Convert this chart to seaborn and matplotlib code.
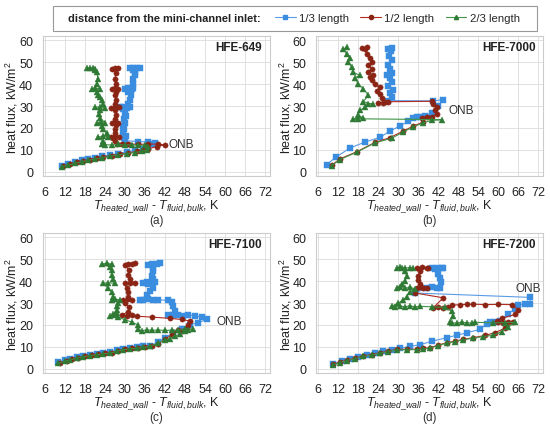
import matplotlib
matplotlib.use("Agg")
import matplotlib.pyplot as plt
import seaborn as sns
from matplotlib.patches import Rectangle
from matplotlib.lines import Line2D

# data: (dT in K, heat flux in kW/m2)
fluids = ["HFE-649", "HFE-7000", "HFE-7100", "HFE-7200"]
panel_tags = ["(a)", "(b)", "(c)", "(d)"]
series_names = ["1/3 length", "1/2 length", "2/3 length"]
x_ticks = [6, 12, 18, 24, 30, 36, 42, 48, 54, 60, 66, 72]
y_ticks = [0, 10, 20, 30, 40, 50, 60]
onb_xy = [(43, 12.5), (45, 28), (57.5, 22), (65, 37)]

# HFE-649
a_third = [(11, 2.8), (13, 3.6), (15, 4.5), (17, 5.2), (19, 5.8), (21, 6.3), (23, 7.0), (25.5, 7.6),
           (28, 8.3), (30.5, 9.0), (33, 9.8), (35.5, 10.4), (37, 11.2), (38.5, 12.5), (39, 13.3),
           (37, 13.6), (34, 13.8), (30, 14.2), (29.8, 15.5), (30.2, 16.5), (29.5, 18), (29.6, 19.5),
           (29.5, 21), (30, 22.5), (29.8, 24), (30.2, 25.5), (30, 27), (29.5, 28.8), (28.5, 29.4),
           (29.5, 29.6), (30.5, 29.3), (31.5, 29.5), (31, 31), (31.5, 33), (31.8, 35), (31, 36.5),
           (30, 37.8), (31, 38.2), (32, 38), (32.5, 38.3), (32.5, 40), (32.3, 42.4), (33, 44),
           (33, 45.4), (32.5, 46.5), (31.5, 47.2), (32.5, 47.5), (33.5, 47.3), (34.5, 47.6)]
a_half = [(11.5, 2.5), (13.5, 3.4), (15.5, 4.3), (17.5, 5.0), (19.5, 5.5), (21.5, 6.1), (23.5, 6.8),
          (26, 7.4), (28.5, 8.0), (31, 8.6), (33.5, 9.3), (35.5, 9.8), (37, 10.5), (39.5, 11.5),
          (42, 12.3), (40, 12.6), (37, 12.7), (34, 12.5), (31, 12.8), (29, 12.6), (27.5, 12.8),
          (27, 14), (26.5, 15.5), (25.8, 16), (27, 16.3), (28.2, 16), (27, 17.5), (27, 19.5),
          (27.2, 21.5), (26, 22.4), (27, 22.7), (28, 22.5), (27, 24), (27.2, 26), (27, 28),
          (25.8, 29.3), (27, 29.6), (28.3, 29.4), (27, 31), (27.3, 33), (27, 35), (27.2, 36.5),
          (26, 37.8), (27, 38.2), (28, 37.9), (27.2, 40), (27, 42.5), (27.3, 45), (26, 47),
          (27, 47.4), (28, 47.2)]
a_twothird = [(11, 2.3), (13, 3.0), (15, 3.8), (17, 4.6), (19, 5.2), (21, 5.8), (23, 6.4), (25.5, 7.1),
              (28, 7.7), (30.5, 8.3), (33, 8.8), (35, 9.3), (36.5, 10), (37, 11.5), (36, 12.2),
              (34, 12.0), (32, 12.4), (30, 12.1), (28, 12.5), (26, 12.2), (24, 12.4), (23, 12.6),
              (23.5, 14), (22, 15.8), (23.5, 16.3), (25, 16), (24.5, 17.5), (23.5, 19.5), (23, 21),
              (21.5, 22.4), (22.8, 22.8), (24, 22.5), (22.5, 24.5), (22.3, 26.4), (22.5, 28),
              (21, 29.4), (22.5, 29.7), (24, 29.3), (23.5, 31), (23, 32.6), (22.5, 34), (22, 35),
              (21.5, 36.5), (20, 37.8), (21, 38.2), (22.5, 37.9), (21.5, 40), (22, 42.4),
              (21.5, 45.4), (21, 46.5), (18.5, 47.2), (19.5, 47.5), (20.5, 47.3), (21, 47)]

# HFE-7000
b_third = [(8.5, 3.2), (11.3, 6.7), (15.5, 10.8), (20, 13.6), (24.5, 15.7), (27.5, 18.6), (30.5, 20.9),
           (33, 23.1), (34.5, 24.5), (35.5, 25.2), (36.5, 24.8), (38, 25.5), (40, 27), (42, 30),
           (43.4, 32.9), (40.5, 32.4), (27, 32.5), (28, 34), (27.5, 36), (28.5, 37.5), (27, 39),
           (28, 41), (27.5, 43), (26.5, 44), (28, 45), (27.5, 47), (27, 49), (28, 51), (27.2, 53),
           (27.8, 55), (27, 56), (28, 56.5)]
b_half = [(10, 2.9), (12.5, 5.9), (17.5, 9.1), (23, 13.4), (27.5, 15.6), (31.5, 18.6), (34.5, 20.9),
          (37.5, 22.7), (37, 24.5), (38.5, 25.2), (40, 25), (41.5, 26.5), (41, 28), (41.5, 29.5),
          (40.5, 31), (40, 32.2), (27, 32), (25.5, 31.5), (24, 31.2), (26, 31.8), (25, 33.5),
          (24.5, 35.5), (23.5, 37), (24.5, 38.5), (23, 40), (22, 42), (21.5, 43.5), (22.5, 44),
          (21, 45.5), (22, 47), (21, 49), (22, 50), (21.5, 52), (20.5, 54), (20, 56), (19, 56.5),
          (20.5, 56.8)]
b_twothird = [(10, 2.7), (12.5, 5.6), (17.5, 8.9), (23, 13.2), (28, 15.3), (31.5, 18.2), (34.5, 20.5),
              (37.5, 22.4), (40, 23.5), (43, 23.8), (18, 24.2), (16.5, 24), (19.5, 24.5), (18, 26),
              (18.5, 28), (20, 29.5), (21, 31), (22.5, 30.8), (19.5, 32), (21, 35), (19.5, 38),
              (18, 40), (17, 43), (18.5, 44), (16.5, 45.5), (16, 48), (15, 50), (15.5, 52),
              (14.5, 54), (13.5, 56), (14.5, 57)]

# HFE-7100
c_third = [(10, 3.0), (12, 3.8), (13.5, 4.5), (15.5, 5.2), (17.5, 5.9), (19.5, 6.4), (21.5, 6.8),
           (23.5, 7.2), (25.5, 7.6), (27.5, 8.4), (29.5, 9.1), (31.5, 9.5), (33.5, 9.8), (35.5, 10.2),
           (37.5, 10.6), (40, 12), (42, 14.2), (44.5, 16.4), (47, 18), (49.5, 20.2), (52, 21),
           (54.5, 22.5), (53, 23.5), (51, 24.3), (49, 24.5), (47.5, 24.3), (46, 24.7), (44.5, 24.4),
           (43, 24.6), (45, 26.5), (44.5, 28.5), (44, 30.5), (43, 31.2), (40, 31.5), (38.5, 31.4),
           (37, 31.7), (35.5, 31.4), (34.5, 31.6), (36.5, 33.5), (37.5, 35.5), (38.5, 37), (37, 38.5),
           (35.5, 39.2), (36.5, 39.5), (38, 39.3), (39, 39.4), (38.5, 41), (38, 42.5), (38.5, 44.5),
           (38.5, 46), (37, 47.5), (38, 48), (39.5, 47.8), (40.5, 48.2)]
c_half = [(10.5, 2.8), (12.5, 3.6), (14, 4.3), (16, 5.0), (18, 5.7), (20, 6.2), (22, 6.6), (24, 7.0),
          (26, 7.3), (28, 8.2), (30, 8.9), (32, 9.3), (34, 9.6), (36, 10.0), (38, 10.4), (40, 11.5),
          (42, 13.5), (44, 15.5), (44.5, 17), (46, 17.5), (47, 17.2), (48.5, 18.5), (49, 20),
          (49.5, 21.8), (47, 22.5), (43.5, 23), (38, 23.6), (33.5, 24), (32, 24.5), (30.5, 24.2),
          (29, 24.6), (31, 26), (31.2, 28), (30, 30), (29.5, 31.5), (31, 31.8), (32, 31.4), (31, 33),
          (31, 35), (30.5, 37), (30, 39), (31.5, 39.3), (33, 39), (31.5, 41), (31, 43), (31.2, 45),
          (30, 47.5), (31, 48), (32, 47.8), (33, 48.2)]
c_twothird = [(10, 2.6), (12, 3.4), (13.5, 4.1), (15.5, 4.8), (17.5, 5.5), (19.5, 6.0), (21.5, 6.4),
              (23.5, 6.8), (25.5, 7.1), (27.5, 8.0), (29.5, 8.7), (31.5, 9.1), (33.5, 9.4), (35.5, 9.8),
              (37.5, 10.2), (40, 11.8), (42, 13.2), (43.5, 13.8), (45, 15), (46.5, 15.8), (48, 17.2),
              (49, 17.8), (50.5, 18), (48, 18.2), (46, 17.5), (44, 17.6), (42, 17.5), (40, 17.7),
              (38, 17.5), (36.5, 17.8), (35, 17.4), (34, 18), (34, 20), (32, 21.3), (30, 22.4),
              (28, 23.5), (27, 24.5), (25.5, 24.2), (26.5, 24.8), (27.5, 25.5), (27.5, 27), (27.5, 28.5),
              (28, 30), (28.5, 31.5), (27, 31.8), (26, 31.4), (26.5, 33), (26, 35), (25, 37), (23.5, 39),
              (25, 39.3), (27, 39), (26.5, 41), (26, 43), (26, 45), (25.5, 46.5), (23, 47.8), (24.5, 48.2),
              (26, 47.8)]

# HFE-7200
d_third = [(10.5, 2.3), (13, 3.4), (15.5, 4.5), (18, 5.5), (20.5, 6.4), (23, 7.2), (25.5, 7.9), (28, 8.7),
           (30.5, 9.4), (33.5, 10.2), (36.5, 11), (40, 12.5), (44.5, 14.2), (47.5, 15.3), (50.5, 16.4),
           (54.5, 18), (56.5, 20.5), (57.5, 21.2), (59, 21.5), (60.5, 22), (63, 25.2), (65, 27.3),
           (66, 29.2), (68, 29.6), (69.6, 29.5), (69.6, 32.6), (35, 34.6), (38.5, 36.8), (40, 37.2),
           (41.5, 36.8), (42.5, 37), (42.8, 39.5), (42.5, 41.5), (42, 43.5), (41, 45.5), (40, 46),
           (41.5, 46.2), (43, 46), (43.5, 45.8)]
d_half = [(10.5, 2.0), (12.5, 3.0), (14.5, 3.9), (17, 4.8), (19.5, 5.8), (22, 6.5), (24.5, 7.3), (27, 8.0),
          (29.5, 8.8), (32.5, 8.9), (35.5, 8.9), (37.5, 9.3), (39.5, 9.6), (42, 10.8), (44.5, 11.9),
          (47, 12.6), (49.5, 13.4), (52.5, 14.2), (56, 15.2), (59, 16.5), (62, 18.5), (64.5, 21.5),
          (63, 21.2), (61.5, 20.8), (60, 21.3), (59.5, 22), (61, 23), (65, 24.8), (66, 27), (64, 29.3),
          (60, 29.4), (56, 29.3), (52.5, 29.5), (50.5, 29.4), (48.5, 29.3), (46, 29), (45, 28.2),
          (43.5, 27.8), (42, 28.3), (40.5, 27.9), (43.5, 32.4), (35, 34.6), (35.5, 36.8), (36.5, 37.2),
          (37.5, 36.9), (38.5, 37.1), (36.5, 38.5), (36, 40.5), (36, 42.5), (36.5, 44.5), (35.5, 46),
          (37, 46.3), (38.5, 45.8), (39, 46.1)]
d_twothird = [(10.5, 1.8), (12.5, 2.8), (14.5, 3.7), (17, 4.6), (19.5, 5.6), (22, 6.3), (24.5, 7.1),
              (27, 7.8), (29.5, 8.6), (32.5, 8.7), (35.5, 8.7), (37.5, 9.1), (39.5, 9.4), (42, 10.6),
              (44.5, 11.7), (47, 12.4), (49.5, 13.2), (52.5, 14.0), (55.5, 14.7), (58.5, 15.3), (61, 17),
              (63, 19), (65, 21.2), (62, 21), (58.5, 21), (53, 21.2), (52, 20.8), (50.5, 21), (49, 21.3),
              (47.5, 20.8), (46, 21), (45.5, 21.5), (46.5, 24), (46, 26.3), (44, 28), (40, 28.3),
              (36.5, 28.5), (35, 28.2), (33.5, 28.8), (32, 28.3), (30.5, 28.7), (29, 28.3), (28, 28.5),
              (30, 30), (31.5, 31.5), (32.5, 33), (33.5, 35), (35, 36.5), (33.5, 37.2), (32, 36.8),
              (30.5, 37.2), (29.5, 36.9), (31, 38.5), (32, 40), (32.5, 42.5), (32, 44.5), (31, 46),
              (29.5, 45.8), (30.5, 46.3), (32, 46), (33.5, 46.2), (34.5, 45.9)]

panels = [[a_third, a_half, a_twothird], [b_third, b_half, b_twothird],
          [c_third, c_half, c_twothird], [d_third, d_half, d_twothird]]

line_colors = ["#5a9be6", "#b02a20", "#3f9447"]
marker_colors = ["#3b8de0", "#8a2414", "#2f7a35"]
marker_shapes = ["s", "o", "^"]

sns.set_theme(style="whitegrid")
plt.rcParams["font.family"] = ["Liberation Sans", "DejaVu Sans"]
plt.rcParams["mathtext.fontset"] = "custom"
plt.rcParams["mathtext.rm"] = "Liberation Sans"
plt.rcParams["mathtext.it"] = "Liberation Sans:italic"

fig = plt.figure(figsize=(5.5, 4.31), dpi=100)
boxes = [[0.078, 0.589, 0.413, 0.324], [0.575, 0.589, 0.413, 0.324],
         [0.078, 0.132, 0.413, 0.324], [0.575, 0.132, 0.413, 0.324]]

for i, box in enumerate(boxes):
    ax = fig.add_axes(box)
    for j, pts in enumerate(panels[i]):
        xs = [p[0] for p in pts]
        ys = [p[1] for p in pts]
        sns.lineplot(x=xs, y=ys, sort=False, estimator=None, ax=ax, color=line_colors[j],
                     marker=marker_shapes[j], markersize=3.8, markerfacecolor=marker_colors[j],
                     markeredgecolor=marker_colors[j], markeredgewidth=0.3, linewidth=0.8)
    ax.set_xlim(5.4, 73.5)
    ax.set_ylim(-2, 61.8)
    ax.set_xticks(x_ticks)
    ax.set_yticks(y_ticks)
    ax.tick_params(labelsize=9, pad=1, colors="#222222")
    ax.grid(color="#dcdcdc", linewidth=0.6)
    for s in ax.spines.values():
        s.set_color("#cccccc")
        s.set_linewidth(0.8)
    ax.set_xlabel(r"$T_{heated\_wall}$ - $T_{fluid,bulk}$, K", fontsize=9, color="#222222")
    ax.xaxis.set_label_coords(0.5, -0.15)
    ax.set_ylabel(r"heat flux, kW/m$^2$", fontsize=9, color="#222222")
    ax.yaxis.set_label_coords(-0.1, 0.5)
    ax.text(0.965, 0.925, fluids[i], transform=ax.transAxes, ha="right", va="center",
            fontsize=8.5, fontweight="bold", color="#222222")
    ax.text(onb_xy[i][0], onb_xy[i][1], "ONB", ha="left", va="center", fontsize=8.5, color="#333333")
    fig.text(box[0] + box[2] / 2, box[1] - 0.102, panel_tags[i], ha="center", va="center",
             fontsize=8.5, color="#333333")

# legend box at the top
fig.patches.append(Rectangle((0.096, 0.926), 0.88, 0.058, transform=fig.transFigure,
                             facecolor="white", edgecolor="#999999", linewidth=0.8))
fig.text(0.124, 0.955, "distance from the mini-channel inlet:", fontsize=7.9, fontweight="bold",
         ha="left", va="center", color="#222222")
handles = [Line2D([], [], color=line_colors[k], marker=marker_shapes[k], markersize=3,
                  markerfacecolor=marker_colors[k], markeredgecolor=marker_colors[k], linewidth=0.8)
           for k in range(3)]
fig.legend(handles, series_names, loc="center left", bbox_to_anchor=(0.5, 0.955), ncol=3,
           frameon=False, fontsize=8.2, handlelength=1.8, handletextpad=0.3, columnspacing=1.0,
           borderaxespad=0, borderpad=0)

fig.savefig("out.png", dpi=100)
